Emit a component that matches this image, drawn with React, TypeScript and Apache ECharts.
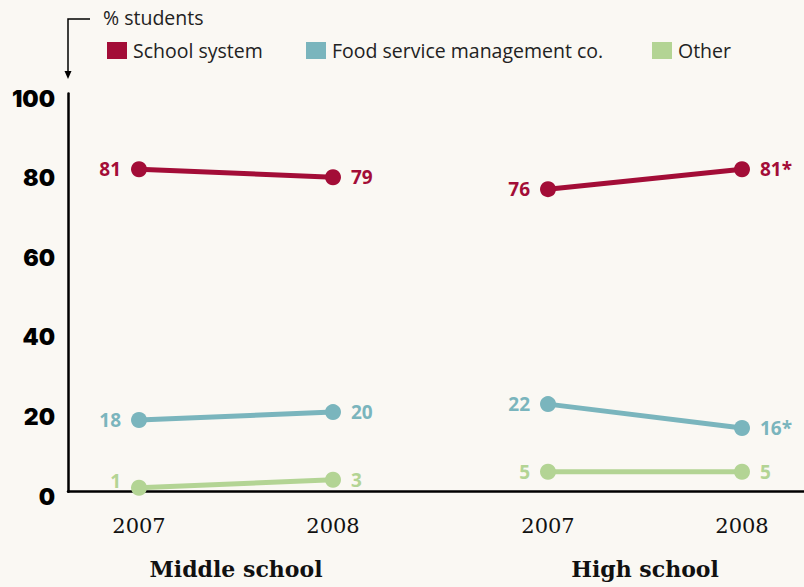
import React, { useEffect, useRef } from "react";
import * as echarts from "echarts";

const years = ["2007", "2008"];
const groups = ["Middle school", "High school"];
const seriesNames = ["School system", "Food service management co.", "Other"];
const tickValues = [0, 20, 40, 60, 80, 100];

// Middle school values
const msSchool = [81, 79];
const msFood = [18, 20];
const msOther = [1, 3];
// High school values
const hsSchool = [76, 81];
const hsFood = [22, 16];
const hsOther = [5, 5];
// significance marks
const hsSchoolMark = ["", "*"];
const hsFoodMark = ["", "*"];
const noMark = ["", ""];

const colors = ["#a30d37", "#7ab5bd", "#b3d494"];
const BG = "#faf8f3";
const LABEL_FONT = "'Open Sans', sans-serif";

function buildData(values: number[], marks: string[], lift = [0, 0]) {
  return values.map((v, i) => ({
    value: v,
    label: {
      position: i === 0 ? "left" : "right",
      formatter: `${v}${marks[i]}`,
      offset: [0, -lift[i]],
    },
  }));
}

export default function App() {
  const ref = useRef<HTMLDivElement>(null);

  useEffect(() => {
    if (!ref.current) return;
    const chart = echarts.init(ref.current, undefined, { renderer: "svg" });

    const groupData = [
      [
        buildData(msSchool, noMark),
        buildData(msFood, noMark),
        buildData(msOther, noMark, [7, 0]),
      ],
      [
        buildData(hsSchool, hsSchoolMark),
        buildData(hsFood, hsFoodMark),
        buildData(hsOther, noMark),
      ],
    ];

    const series: any[] = [];
    groupData.forEach((gd, g) => {
      gd.forEach((data, s) => {
        series.push({
          type: "line",
          name: seriesNames[s],
          xAxisIndex: g + 1,
          yAxisIndex: g + 1,
          data,
          color: colors[s],
          symbol: "circle",
          symbolSize: 16,
          lineStyle: { width: 5, color: colors[s] },
          itemStyle: { color: colors[s] },
          label: {
            show: true,
            color: colors[s],
            fontFamily: LABEL_FONT,
            fontWeight: 700,
            fontSize: 19,
            distance: 10,
          },
          emphasis: { disabled: true },
          z: 3,
        });
      });
    });

    const legendLefts = [107, 306, 652];
    const legends = seriesNames.map((n, i) => ({
      data: [n],
      left: legendLefts[i],
      top: 40.5,
      padding: 0,
      icon: "rect",
      itemWidth: 20,
      itemHeight: 17,
      itemGap: 8,
      selectedMode: false,
      textStyle: {
        color: "#222",
        fontFamily: LABEL_FONT,
        fontSize: 19.5,
        padding: [0, 0, 0, 1],
      },
    }));

    const gridTop = 93.6;
    const gridBottom = 95.3;

    const option: any = {
      animation: false,
      backgroundColor: BG,
      legend: legends,
      grid: [
        { left: 68, right: 0, top: gridTop, bottom: gridBottom },
        { left: 139, width: 194, top: gridTop, bottom: gridBottom },
        { left: 548, width: 194, top: gridTop, bottom: gridBottom },
      ],
      xAxis: [
        {
          gridIndex: 0,
          type: "value",
          min: 0,
          max: 1,
          axisLine: { show: true, lineStyle: { color: "#000", width: 2.5 } },
          axisTick: { show: false },
          axisLabel: { show: false },
          splitLine: { show: false },
        },
        ...groups.map((gname, g) => ({
          gridIndex: g + 1,
          type: "category",
          data: years,
          boundaryGap: false,
          axisLine: { show: false },
          axisTick: { show: false },
          splitLine: { show: false },
          axisLabel: {
            color: "#111",
            fontFamily: "'DejaVu Serif', serif",
            fontSize: 21,
            margin: 24,
          },
          name: gname,
          nameLocation: "middle",
          nameGap: 66,
          nameTextStyle: {
            color: "#111",
            fontFamily: "'DejaVu Serif', serif",
            fontWeight: 700,
            fontSize: 22,
          },
        })),
      ],
      yAxis: [
        {
          gridIndex: 0,
          type: "value",
          min: 0,
          max: 100,
          interval: 20,
          axisLine: { show: true, lineStyle: { color: "#000", width: 2.5 } },
          axisTick: { show: false },
          splitLine: { show: false },
          axisLabel: {
            color: "#000",
            fontFamily: "Inter, sans-serif",
            fontWeight: 900,
            fontSize: 23,
            margin: 13,
            verticalAlign: "top",
            lineHeight: 10,
            formatter: (v: number) => (tickValues.includes(v) ? String(v) : ""),
          },
        },
        ...groups.map((_, g) => ({
          gridIndex: g + 1,
          type: "value",
          min: 0,
          max: 100,
          show: false,
        })),
      ],
      series,
      graphic: [
        {
          type: "polyline",
          shape: { points: [[90, 19], [68, 19], [68, 73]] },
          style: { stroke: "#000", lineWidth: 1.5, fill: null },
        },
        {
          type: "polygon",
          shape: { points: [[64.5, 71], [71.5, 71], [68, 79]] },
          style: { fill: "#000" },
        },
        {
          type: "text",
          left: 103,
          top: 7,
          style: {
            text: "% students",
            fill: "#222",
            font: `19.5px ${LABEL_FONT}`,
          },
        },
      ],
    };

    chart.setOption(option);
    return () => chart.dispose();
  }, []);

  return (
    <div
      ref={ref}
      style={{ position: "fixed", left: 0, top: 0, width: 804, height: 587 }}
    />
  );
}
